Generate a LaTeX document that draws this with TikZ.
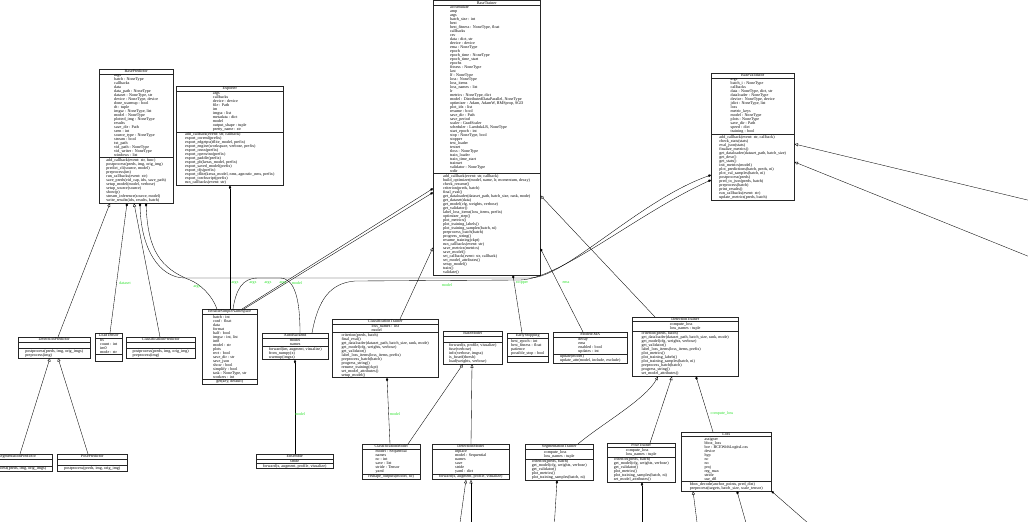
\documentclass[tikz,border=0pt]{standalone}
\usepackage{fontspec}
\setmainfont{Liberation Serif}
\usepackage{tikz}
\usetikzlibrary{arrows.meta,shapes.multipart}
\definecolor{edgegreen}{RGB}{40,225,40}
\newcommand{\umlfont}{\fontsize{4.1}{4}\selectfont\lineskiplimit=-4pt\lineskip=0pt}
\newcommand{\members}[1]{\vbox{\let\\\cr\halign{##\hfil\cr#1\crcr}}}
\newcommand{\nomembers}{\rule{0pt}{5pt}}
\tikzset{
    %Define style for class boxes
    umlclass/.style={
           rectangle split,
           rectangle split parts=3,
           draw=black!85, line width=0.45pt,
           inner xsep=1pt, inner ysep=0.6pt,
           font=\umlfont,
           anchor=north west},
    %Define style for edge labels
    lbl/.style={
           font=\umlfont,
           text=edgegreen,
           inner sep=0pt},
    %Define arrow styles
    inherit/.style={
           -{Triangle[open,length=3.5pt,width=3pt]},
           line width=0.35pt},
    compose/.style={
           -{Diamond[length=3.5pt,width=2.4pt]},
           line width=0.35pt}
}
\begin{document}
\begin{tikzpicture}[x=1pt,y=-1pt]
\useasboundingbox (0,0) rectangle (1028,522);
\clip (0,0) rectangle (1028,522);
 %top row
\node[umlclass, minimum width=74pt] (BasePredictor) at (99,69) {BasePredictor
\nodepart{two}\members{args\\batch : NoneType\\callbacks\\data\\data\_path : NoneType\\dataset : NoneType, str\\device : NoneType, device\\done\_warmup : bool\\dt : tuple\\imgsz : NoneType, list\\model : NoneType\\plotted\_img : NoneType\\results\\save\_dir : Path\\seen : int\\source\_type : NoneType\\stream : bool\\txt\_path\\vid\_path : NoneType\\vid\_writer : NoneType\\windows : list}
\nodepart{three}\members{add\_callback(event: str, func)\\postprocess(preds, img, orig\_img)\\predict\_cli(source, model)\\preprocess(im)\\run\_callbacks(event: str)\\save\_preds(vid\_cap, idx, save\_path)\\setup\_model(model, verbose)\\setup\_source(source)\\show(p)\\stream\_inference(source, model)\\write\_results(idx, results, batch)}};
\node[umlclass, minimum width=107pt] (Exporter) at (176,86) {Exporter
\nodepart{two}\members{args\\callbacks\\device : device\\file : Path\\im\\imgsz : list\\metadata : dict\\model\\output\_shape : tuple\\pretty\_name : str}
\nodepart{three}\members{add\_callback(event: str, callback)\\export\_coreml(prefix)\\export\_edgetpu(tflite\_model, prefix)\\export\_engine(workspace, verbose, prefix)\\export\_onnx(prefix)\\export\_openvino(prefix)\\export\_paddle(prefix)\\export\_pb(keras\_model, prefix)\\export\_saved\_model(prefix)\\export\_tfjs(prefix)\\export\_tflite(keras\_model, nms, agnostic\_nms, prefix)\\export\_torchscript(prefix)\\run\_callbacks(event: str)}};
\node[umlclass, minimum width=107pt] (BaseTrainer) at (433,0.5) {BaseTrainer
\nodepart{two}\members{accumulate\\amp\\args\\batch\_size : int\\best\\best\_fitness : NoneType, float\\callbacks\\csv\\data : dict, str\\device : device\\ema : NoneType\\epoch\\epoch\_time : NoneType\\epoch\_time\_start\\epochs\\fitness : NoneType\\last\\lf : NoneType\\loss : NoneType\\loss\_items\\loss\_names : list\\lr\\metrics : NoneType, dict\\model : DistributedDataParallel, NoneType\\optimizer : Adam, AdamW, RMSprop, SGD\\plot\_idx : list\\resume : bool\\save\_dir : Path\\save\_period\\scaler : GradScaler\\scheduler : LambdaLR, NoneType\\start\_epoch : int\\stop : NoneType, bool\\stopper\\test\_loader\\testset\\tloss : NoneType\\train\_loader\\train\_time\_start\\trainset\\validator : NoneType\\wdir}
\nodepart{three}\members{add\_callback(event: str, callback)\\build\_optimizer(model, name, lr, momentum, decay)\\check\_resume()\\criterion(preds, batch)\\final\_eval()\\get\_dataloader(dataset\_path, batch\_size, rank, mode)\\get\_dataset(data)\\get\_model(cfg, weights, verbose)\\get\_validator()\\label\_loss\_items(loss\_items, prefix)\\optimizer\_step()\\plot\_metrics()\\plot\_training\_labels()\\plot\_training\_samples(batch, ni)\\preprocess\_batch(batch)\\progress\_string()\\resume\_training(ckpt)\\run\_callbacks(event: str)\\save\_metrics(metrics)\\save\_model()\\set\_callback(event: str, callback)\\set\_model\_attributes()\\setup\_model()\\train()\\validate()}};
\node[umlclass, minimum width=83pt] (BaseValidator) at (711,73) {BaseValidator
\nodepart{two}\members{args\\batch\_i : NoneType\\callbacks\\data : NoneType, dict, str\\dataloader : NoneType\\device : NoneType, device\\jdict : NoneType, list\\loss\\metric\_keys\\model : NoneType\\plots : NoneType\\save\_dir : Path\\speed : dict\\training : bool}
\nodepart{three}\members{add\_callback(event: str, callback)\\check\_stats(stats)\\eval\_json(stats)\\finalize\_metrics()\\get\_dataloader(dataset\_path, batch\_size)\\get\_desc()\\get\_stats()\\init\_metrics(model)\\plot\_predictions(batch, preds, ni)\\plot\_val\_samples(batch, ni)\\postprocess(preds)\\pred\_to\_json(preds, batch)\\preprocess(batch)\\print\_results()\\run\_callbacks(event: str)\\update\_metrics(preds, batch)}};
 %middle row
\node[umlclass, minimum width=72pt] (DetectionPredictor) at (18,337) {DetectionPredictor
\nodepart{two}\nomembers
\nodepart{three}\members{postprocess(preds, img, orig\_imgs)\\preprocess(img)}};
\node[umlclass, minimum width=27pt] (LoadTensor) at (95,333) {LoadTensor
\nodepart{two}\members{bs\\count : int\\im0\\mode : str}
\nodepart{three}\nomembers};
\node[umlclass, minimum width=69pt] (ClassificationPredictor) at (126,337) {ClassificationPredictor
\nodepart{two}\nomembers
\nodepart{three}\members{postprocess(preds, img, orig\_img)\\preprocess(img)}};
\node[umlclass, minimum width=55pt] (ISN) at (202,309) {IterableSimpleNamespace
\nodepart{two}\members{batch : int\\conf : float\\data\\format\\half : bool\\imgsz : int, list\\int8\\model : str\\plots\\rect : bool\\save\_dir : str\\save\_json\\show : bool\\simplify : bool\\task : NoneType, str\\workers : int}
\nodepart{three}\members{get(key, default)}};
\node[umlclass, minimum width=66pt] (AutoBackend) at (262,333) {AutoBackend
\nodepart{two}\members{model\\names}
\nodepart{three}\members{forward(im, augment, visualize)\\from\_numpy(x)\\warmup(imgsz)}};
\node[umlclass, minimum width=106pt] (ClassificationTrainer) at (332,319) {ClassificationTrainer
\nodepart{two}\members{loss\_names : list\\model}
\nodepart{three}\members{criterion(preds, batch)\\final\_eval()\\get\_dataloader(dataset\_path, batch\_size, rank, mode)\\get\_model(cfg, weights, verbose)\\get\_validator()\\label\_loss\_items(loss\_items, prefix)\\preprocess\_batch(batch)\\progress\_string()\\resume\_training(ckpt)\\set\_model\_attributes()\\setup\_model()}};
\node[umlclass, minimum width=59pt] (BaseModel) at (443,331) {BaseModel
\nodepart{two}\nomembers
\nodepart{three}\members{forward(x, profile, visualize)\\fuse(verbose)\\info(verbose, imgsz)\\is\_fused(thresh)\\load(weights, verbose)}};
\node[umlclass, minimum width=41pt] (EarlyStopping) at (507,333) {EarlyStopping
\nodepart{two}\members{best\_epoch : int\\best\_fitness : float\\patience\\possible\_stop : bool}
\nodepart{three}\nomembers};
\node[umlclass, minimum width=74pt] (ModelEMA) at (553,332) {ModelEMA
\nodepart{two}\members{decay\\ema\\enabled : bool\\updates : int}
\nodepart{three}\members{update(model)\\update\_attr(model, include, exclude)}};
\node[umlclass, minimum width=106pt] (DetectionTrainer) at (632,317) {DetectionTrainer
\nodepart{two}\members{compute\_loss\\loss\_names : tuple}
\nodepart{three}\members{criterion(preds, batch)\\get\_dataloader(dataset\_path, batch\_size, rank, mode)\\get\_model(cfg, weights, verbose)\\get\_validator()\\label\_loss\_items(loss\_items, prefix)\\plot\_metrics()\\plot\_training\_labels()\\plot\_training\_samples(batch, ni)\\preprocess\_batch(batch)\\progress\_string()\\set\_model\_attributes()}};
 %bottom row
\node[umlclass, minimum width=70pt] (SegmentationPredictor) at (-18,454) {SegmentationPredictor
\nodepart{two}\nomembers
\nodepart{three}\members{postprocess(preds, img, orig\_imgs)}};
\node[umlclass, minimum width=70pt] (PosePredictor) at (57,454) {PosePredictor
\nodepart{two}\nomembers
\nodepart{three}\members{postprocess(preds, img, orig\_img)}};
\node[umlclass, minimum width=77pt] (Ensemble) at (256,454) {Ensemble
\nodepart{two}\members{stride}
\nodepart{three}\members{forward(x, augment, profile, visualize)}};
\node[umlclass, minimum width=58pt] (ClassificationModel) at (362,444) {ClassificationModel
\nodepart{two}\members{model : Sequential\\names\\nc : int\\save : list\\stride : Tensor\\yaml}
\nodepart{three}\members{reshape\_outputs(model, nc)}};
\node[umlclass, minimum width=77pt] (DetectionModel) at (432,444) {DetectionModel
\nodepart{two}\members{inplace\\model : Sequential\\names\\save\\stride\\yaml : dict}
\nodepart{three}\members{forward(x, augment, profile, visualize)}};
\node[umlclass, minimum width=68pt] (SegmentationTrainer) at (525,444) {SegmentationTrainer
\nodepart{two}\members{compute\_loss\\loss\_names : tuple}
\nodepart{three}\members{criterion(preds, batch)\\get\_model(cfg, weights, verbose)\\get\_validator()\\plot\_metrics()\\plot\_training\_samples(batch, ni)}};
\node[umlclass, minimum width=68pt] (PoseTrainer) at (607,443) {PoseTrainer
\nodepart{two}\members{compute\_loss\\loss\_names : tuple}
\nodepart{three}\members{criterion(preds, batch)\\get\_model(cfg, weights, verbose)\\get\_validator()\\plot\_metrics()\\plot\_training\_samples(batch, ni)\\set\_model\_attributes()}};
\node[umlclass, minimum width=90pt] (Loss) at (681,432) {Loss
\nodepart{two}\members{assigner\\bbox\_loss\\bce : BCEWithLogitsLoss\\device\\hyp\\nc\\no\\proj\\reg\_max\\stride\\use\_dfl}
\nodepart{three}\members{bbox\_decode(anchor\_points, pred\_dist)\\preprocess(targets, batch\_size, scale\_tensor)}};
 %ends of edges outside the picture
\coordinate (cutA) at (459,530);
\coordinate (cutB) at (471,530);
\coordinate (cutC) at (554,530);
\coordinate (cutD) at (642,530);
\coordinate (cutE) at (698,530);
\coordinate (cutF) at (748,530);
\coordinate (cutG) at (816,530);
\coordinate (cutH) at (1040,203);
\coordinate (cutI) at (1040,261);
 %predictors
\draw[inherit] ([xshift=40pt]DetectionPredictor.north west) -- ([xshift=11pt]BasePredictor.south west);
\draw[compose] ([xshift=15pt]LoadTensor.north west) -- ([xshift=28pt]BasePredictor.south west) node[lbl] at (125,283) {dataset};
\draw[inherit] ([xshift=34pt]ClassificationPredictor.north west) -- ([xshift=35pt]BasePredictor.south west);
\draw[inherit] ([xshift=38pt]SegmentationPredictor.north west) -- ([xshift=32pt]DetectionPredictor.south west);
\draw[inherit] ([xshift=31pt]PosePredictor.north west) -- ([xshift=40pt]DetectionPredictor.south west);
 %args
\draw[compose] ([xshift=15pt]ISN.north west) .. controls (212,295) and (200,284) .. (190,280) .. controls (160,268) and (148,250) .. ([xshift=47pt]BasePredictor.south west) node[lbl] at (197,287) {args};
\draw[compose] ([xshift=28pt]ISN.north west) -- ([xshift=54pt]Exporter.south west) node[lbl] at (235,283) {args};
\draw[compose] ([xshift=31pt]ISN.north west) .. controls (236,290) and (242,278) .. (258,278) -- (530,278) .. controls (565,278) and (640,200) .. ([yshift=-102pt]BaseValidator.north west) node[lbl] at (253,283) {args};
\draw[compose] ([xshift=42pt]ISN.north west) -- ([yshift=-192pt]BaseTrainer.north west) node[lbl] at (268,283) {args};
\draw[compose] ([xshift=40pt]ISN.north west) -- ([yshift=-188pt]BaseTrainer.north west) node[lbl] at (283,283) {args};
 %models
\draw[compose] ([xshift=38pt]AutoBackend.north west) .. controls (300,300) and (295,278) .. (280,278) -- (185,278) .. controls (160,278) and (141,250) .. ([xshift=41pt]BasePredictor.south west) node[lbl] at (297,283) {model};
\draw[compose] ([xshift=50pt]AutoBackend.north west) .. controls (318,300) and (330,283) .. (355,281) -- (520,280) .. controls (560,279) and (640,212) .. ([yshift=-107pt]BaseValidator.north west) node[lbl] at (447,285) {model};
\draw[compose] ([xshift=39pt]Ensemble.north west) -- ([xshift=33pt]AutoBackend.south west) node[lbl] at (300,414) {model};
 %trainers
\draw[inherit] ([xshift=68pt]ClassificationTrainer.north west) -- ([yshift=-247pt]BaseTrainer.north west);
\draw[inherit] ([xshift=23pt]DetectionTrainer.north west) -- ([yshift=-195pt]BaseTrainer.north east);
\draw[compose] ([xshift=15pt]EarlyStopping.north west) -- ([xshift=80pt]BaseTrainer.south west) node[lbl] at (522,283) {stopper};
\draw[compose] ([xshift=30pt]ModelEMA.north west) -- ([yshift=-248pt]BaseTrainer.north east) node[lbl] at (566,283) {ema};
\draw[compose] ([xshift=28pt]ClassificationModel.north west) -- ([xshift=55pt]ClassificationTrainer.south west) node[lbl] at (395,414) {model};
\draw[inherit] ([xshift=46pt]ClassificationModel.north west) -- ([xshift=20pt]BaseModel.south west);
\draw[inherit] ([xshift=39pt]DetectionModel.north west) -- ([xshift=29pt]BaseModel.south west);
\draw[inherit] ([xshift=53pt]SegmentationTrainer.north west) .. controls (600,425) and (645,400) .. ([xshift=26pt]DetectionTrainer.south west);
\draw[inherit] ([xshift=43pt]PoseTrainer.north west) -- ([xshift=40pt]DetectionTrainer.south west);
\draw[compose] ([xshift=32pt]Loss.north west) -- ([xshift=64pt]DetectionTrainer.south west) node[lbl] at (722,414) {compute\_loss};
 %edges leaving the picture
\draw[inherit] (cutA) -- ([xshift=34pt]DetectionModel.south west);
\draw[inherit] (cutB) -- ([xshift=39pt]DetectionModel.south west);
\draw[compose] (cutC) -- ([xshift=32pt]SegmentationTrainer.south west);
\draw[compose] (cutD) -- ([xshift=35pt]PoseTrainer.south west);
\draw[inherit] (cutE) -- ([xshift=12pt]Loss.south west);
\draw[compose] (cutF) -- ([xshift=56pt]Loss.south west);
\draw[compose] (cutG) -- (Loss.south east);
\draw[inherit] (cutH) -- ([yshift=-71pt]BaseValidator.north east);
\draw[inherit] (cutI) -- ([yshift=-89pt]BaseValidator.north east);
\end{tikzpicture}
\end{document}
